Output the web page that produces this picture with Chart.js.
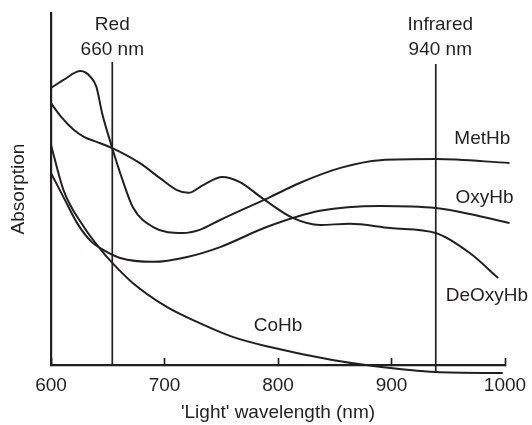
<!DOCTYPE html>
<html>
<head>
<meta charset="utf-8">
<script src="https://cdn.jsdelivr.net/npm/chart.js@4"></script>
<style>
  html, body { margin: 0; padding: 0; background: #fff; }
  #wrap { width: 532px; height: 425px; }
</style>
</head>
<body>
<div id="wrap"><canvas id="chart"></canvas></div>
<script>
// readings: wavelength (nm) and relative absorption
const metHbNm = [600, 611, 626, 635, 640, 645, 654, 663, 672, 690, 716, 731, 749, 778, 793, 819, 855, 890, 939, 1004];
const metHbAbs = [78.7, 81.0, 83.5, 81.8, 79.0, 71.6, 61.6, 52.6, 44.9, 39.2, 37.5, 38.4, 41.2, 45.5, 47.7, 51.7, 56.0, 58.2, 58.5, 57.4];

const deoxyNm = [600, 609, 620, 629, 640, 654, 678, 696, 711, 721, 734, 751, 766, 787, 813, 837, 863, 899, 939, 969, 994];
const deoxyAbs = [74.4, 70.5, 66.8, 64.8, 63.4, 61.6, 57.4, 53.1, 49.7, 48.9, 51.1, 53.4, 52.0, 47.2, 41.8, 39.8, 40.1, 38.9, 37.5, 31.8, 24.7];

const oxyNm = [600, 611, 624, 636, 646, 661, 690, 720, 749, 790, 837, 890, 939, 969, 1004];
const oxyAbs = [54.5, 47.7, 39.8, 34.9, 32.7, 30.4, 29.3, 30.7, 33.5, 39.2, 43.8, 45.2, 44.6, 42.9, 40.3];

const coHbNm = [600, 611, 629, 644, 654, 672, 702, 731, 760, 793, 848, 884, 939, 998];
const coHbAbs = [62.5, 49.7, 39.2, 32.7, 29.0, 23.3, 16.5, 11.9, 8.0, 5.1, 1.4, -0.3, -2.0, -2.3];

// the two LED wavelength markers
const markerNm = [654, 939];
const markerTop = [86.1, 85.5];
const markerBottom = [0, -2];
const markerText = [["Red", "660 nm"], ["Infrared", "940 nm"]];

const ink = "#231f20";
const fontFamily = "'Liberation Sans', Arial, sans-serif";

const toPoints = (xs, ys) => xs.map((x, i) => ({ x: x, y: ys[i] }));

function curve(label, xs, ys) {
  return {
    label: label,
    data: toPoints(xs, ys),
    borderColor: ink,
    borderWidth: 2,
    pointRadius: 0,
    fill: false,
    cubicInterpolationMode: "monotone",
    clip: false,
  };
}

const markers = markerNm.map((nm, i) => ({
  label: markerText[i].join(" "),
  data: [
    { x: nm, y: markerTop[i] },
    { x: nm, y: markerBottom[i] },
  ],
  borderColor: ink,
  borderWidth: 1.7,
  pointRadius: 0,
  tension: 0,
  clip: false,
}));

// text next to the curves and above the markers
const curveTextPlugin = {
  id: "curveText",
  afterDatasetsDraw(chart) {
    const { ctx } = chart;
    const x = chart.scales.x;
    const y = chart.scales.y;
    ctx.save();
    ctx.font = "19px " + fontFamily;
    ctx.fillStyle = ink;
    ctx.textAlign = "center";
    ctx.textBaseline = "middle";

    const names = [
      ["MetHb", 980, 64.2],
      ["OxyHb", 982, 47.4],
      ["DeOxyHb", 984, 19.6],
      ["CoHb", 800, 11.1],
    ];
    names.forEach((n) => {
      ctx.fillText(n[0], x.getPixelForValue(n[1]), y.getPixelForValue(n[2]));
    });

    const head = [654, 943];
    markerText.forEach((lines, i) => {
      ctx.fillText(lines[0], x.getPixelForValue(head[i]), y.getPixelForValue(96.6));
      ctx.fillText(lines[1], x.getPixelForValue(head[i]), y.getPixelForValue(89.5));
    });
    ctx.restore();
  },
};

const ctx = document.getElementById("chart").getContext("2d");

const spectraChart = new Chart(ctx, {
  type: "line",
  data: {
    datasets: [
      curve("MetHb", metHbNm, metHbAbs),
      curve("DeOxyHb", deoxyNm, deoxyAbs),
      curve("OxyHb", oxyNm, oxyAbs),
      curve("CoHb", coHbNm, coHbAbs),
      ...markers,
    ],
  },
  options: {
    responsive: true,
    maintainAspectRatio: false,
    animation: false,
    layout: {
      padding: { top: 13, right: 27, left: 0, bottom: 0 },
    },
    plugins: {
      legend: { display: false },
      tooltip: { enabled: false },
    },
    scales: {
      x: {
        type: "linear",
        min: 600,
        max: 1000,
        afterFit: (s) => {
          s.height = 60;
          s.paddingLeft = 0;
          s.paddingRight = 0;
        },
        ticks: {
          stepSize: 100,
          color: ink,
          padding: 16,
          font: { size: 19, family: fontFamily },
          callback: (v) => String(v),
        },
        grid: {
          drawOnChartArea: false,
          drawTicks: true,
          tickLength: -7,
          tickColor: ink,
          tickWidth: 1.7,
        },
        border: { color: ink, width: 2.2 },
        title: {
          display: true,
          text: "'Light' wavelength (nm)",
          color: ink,
          font: { size: 19, family: fontFamily },
          padding: { top: 0, bottom: 1 },
        },
      },
      y: {
        min: 0,
        max: 100,
        afterFit: (s) => {
          s.width = 51;
        },
        ticks: { display: false },
        grid: { display: false },
        border: { color: ink, width: 2.2 },
        title: {
          display: true,
          text: "Absorption",
          color: ink,
          font: { size: 19, family: fontFamily },
          padding: { top: 7, bottom: 0 },
        },
      },
    },
  },
  plugins: [curveTextPlugin],
});
</script>
</body>
</html>
